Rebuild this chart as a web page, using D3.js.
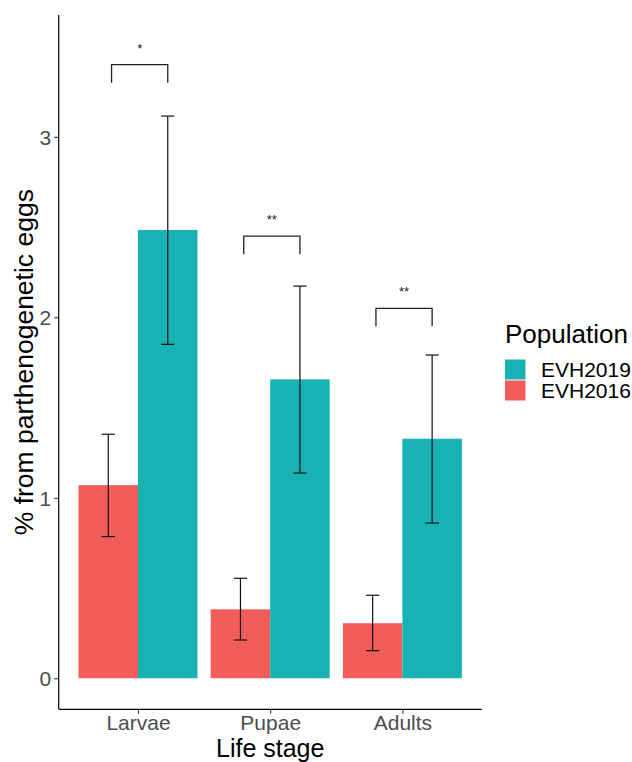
<!DOCTYPE html>
<html>
<head>
<meta charset="utf-8">
<script src="https://cdn.jsdelivr.net/npm/d3@7"></script>
<style>
  body { margin: 0; background: #fff; }
  text { font-family: "Liberation Sans", Arial, sans-serif; }
</style>
</head>
<body>
<div id="chart"></div>
<script>
const stages = ["Larvae", "Pupae", "Adults"];
const populations = ["EVH2016", "EVH2019"];
const legendOrder = ["EVH2019", "EVH2016"];
const popColors = ["#F35D59", "#18B2B5"];

const mean2016 = [1.07, 0.382, 0.305];
const low2016 = [0.785, 0.212, 0.153];
const high2016 = [1.352, 0.554, 0.46];

const mean2019 = [2.484, 1.656, 1.327];
const low2019 = [1.85, 1.137, 0.86];
const high2019 = [3.115, 2.173, 1.791];

const sigY = [3.4, 2.45, 2.05];
const sigLabel = ["*", "**", "**"];

const yTicks = [0, 1, 2, 3];

const width = 632, height = 762;
const svg = d3.select("#chart").append("svg")
    .attr("width", width)
    .attr("height", height);

// category positions as numbers 1..3, ggplot style expansion
const x = d3.scaleLinear().domain([0.4, 3.6]).range([58.7, 481.7]);
const y = d3.scaleLinear().domain([-0.172, 3.675]).range([709.3, 15]);
const color = d3.scaleOrdinal().domain(populations).range(popColors);

const barW = 0.45;
const rows = [];
stages.forEach((s, i) => {
    rows.push({stage: s, pos: i + 1, pop: "EVH2016", off: -barW / 2, v: mean2016[i], lo: low2016[i], hi: high2016[i]});
    rows.push({stage: s, pos: i + 1, pop: "EVH2019", off: barW / 2, v: mean2019[i], lo: low2019[i], hi: high2019[i]});
});

// bars
svg.append("g").selectAll("rect")
    .data(rows)
    .join("rect")
    .attr("x", d => x(d.pos + d.off - barW / 2))
    .attr("width", x(barW) - x(0))
    .attr("y", d => y(d.v))
    .attr("height", d => y(0) - y(d.v))
    .attr("fill", d => color(d.pop));

// error bars
const capW = 0.05;
const eb = svg.append("g").attr("stroke", "#111").attr("stroke-width", 1.2);
rows.forEach(d => {
    const cx = x(d.pos + d.off);
    eb.append("line").attr("x1", cx).attr("x2", cx).attr("y1", y(d.lo)).attr("y2", y(d.hi));
    [d.lo, d.hi].forEach(v => {
        eb.append("line")
            .attr("x1", x(d.pos + d.off - capW)).attr("x2", x(d.pos + d.off + capW))
            .attr("y1", y(v)).attr("y2", y(v));
    });
});

// significance brackets
const br = svg.append("g");
stages.forEach((s, i) => {
    const x1 = x(i + 1 - 0.2), x2 = x(i + 1 + 0.225);
    const top = y(sigY[i]), bot = y(sigY[i] - 0.1);
    br.append("path")
        .attr("d", `M${x1},${bot}V${top}H${x2}V${bot}`)
        .attr("fill", "none")
        .attr("stroke", "#222")
        .attr("stroke-width", 1.3);
    br.append("text")
        .attr("x", (x1 + x2) / 2)
        .attr("y", top - 12)
        .attr("text-anchor", "middle")
        .attr("font-size", 13)
        .attr("fill", "#222")
        .text(sigLabel[i]);
});

// axes
const yAxis = svg.append("g")
    .attr("transform", `translate(${x(0.4)},0)`)
    .call(d3.axisLeft(y).tickValues(yTicks).tickFormat(d3.format("d")).tickSize(4.5).tickPadding(3));
const xAxis = svg.append("g")
    .attr("transform", `translate(0,${y(-0.172)})`)
    .call(d3.axisBottom(x).tickValues([1, 2, 3]).tickFormat(d => stages[d - 1]).tickSize(4.5).tickPadding(4));

[xAxis, yAxis].forEach(ax => {
    ax.select(".domain").attr("stroke", "#000").attr("stroke-width", 1.2);
    ax.selectAll(".tick line").attr("stroke", "#333").attr("stroke-width", 1.1);
    ax.selectAll(".tick text")
        .attr("fill", "#4D4D4D")
        .attr("font-size", 21)
        .attr("font-family", "Liberation Sans, Arial, sans-serif");
});
// drop the end caps of the domain paths
yAxis.select(".domain").attr("d", `M0,${y(-0.172)}V${y(3.675)}`);
xAxis.select(".domain").attr("d", `M${x(0.4)},0H${x(3.6)}`);
xAxis.selectAll(".tick text").attr("dy", null).attr("y", 21);
yAxis.selectAll(".tick text").attr("dy", "0.36em");

// axis titles
svg.append("text")
    .attr("x", (x(0.4) + x(3.6)) / 2)
    .attr("y", 757)
    .attr("text-anchor", "middle")
    .attr("font-size", 25)
    .attr("fill", "#000")
    .text("Life stage");

svg.append("text")
    .attr("transform", `translate(33,${(y(-0.172) + y(3.675)) / 2}) rotate(-90)`)
    .attr("text-anchor", "middle")
    .attr("font-size", 26.5)
    .attr("fill", "#000")
    .text("% from parthenogenetic eggs");

// legend
const lg = svg.append("g").attr("transform", "translate(505,0)");
lg.append("text")
    .attr("x", 0)
    .attr("y", 342.7)
    .attr("font-size", 26)
    .attr("fill", "#000")
    .text("Population");
legendOrder.forEach((p, i) => {
    const ky = 359 + i * 21;
    lg.append("rect")
        .attr("x", 0).attr("y", ky + 0.5)
        .attr("width", 20.5).attr("height", 20)
        .attr("fill", color(p));
    lg.append("text")
        .attr("x", 36)
        .attr("y", ky + 10.5)
        .attr("dy", "0.36em")
        .attr("font-size", 21)
        .attr("fill", "#000")
        .text(p);
});
</script>
</body>
</html>
